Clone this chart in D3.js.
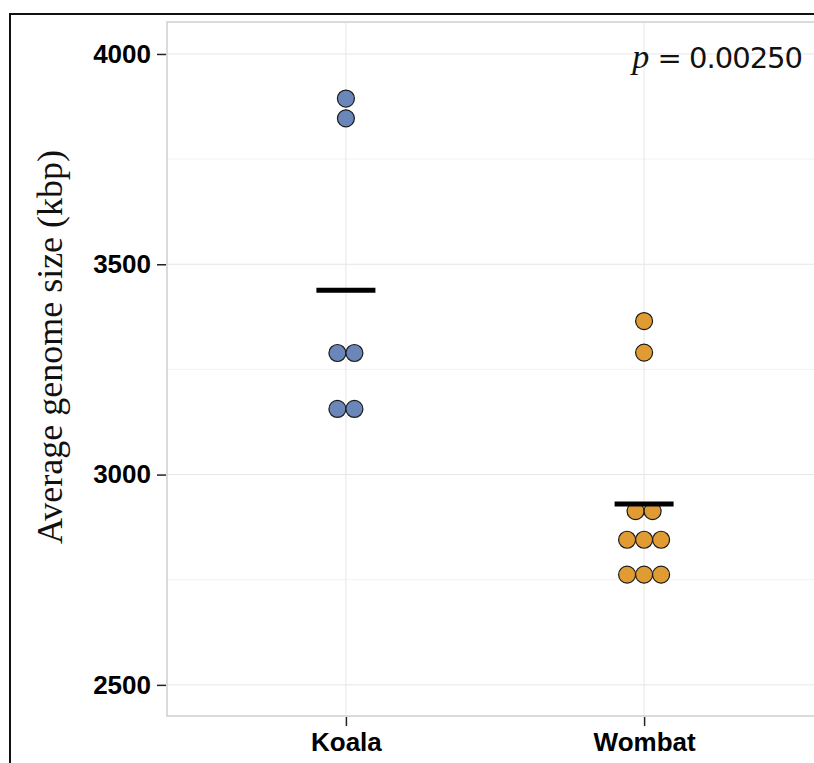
<!DOCTYPE html>
<html><head><meta charset="utf-8">
<script src="https://cdn.jsdelivr.net/npm/d3@7"></script>
<style>body{margin:0;background:#fff}svg{display:block}</style>
</head><body>
<script>
const categories = ["Koala", "Wombat"];
const koalaValues = [3894, 3847, 3289, 3289, 3156, 3156];
const wombatValues = [3365, 3290, 2913, 2913, 2845, 2845, 2845, 2762, 2762, 2762];
const yTicks = [2500, 3000, 3500, 4000];
const yMinorTicks = [2750, 3250, 3750];
const pLabel = "0.00250";
const colors = {Koala: "#6b87b9", Wombat: "#e09b33"};

const W = 814, H = 763;
const svg = d3.select("body").append("svg").attr("width", W).attr("height", H);

// outer border
svg.append("rect").attr("x", 10).attr("y", 14).attr("width", 900).attr("height", 900)
  .attr("fill", "#fff").attr("stroke", "#111").attr("stroke-width", 2);

const panel = {left: 167, top: 22, right: 823, bottom: 716};
// discrete x with ggplot expansion: limits 0.4..2.6
const xs = d3.scaleLinear().domain([0.4, 2.6]).range([panel.left, panel.right]);
const xPos = c => xs(categories.indexOf(c) + 1);
const y = d3.scaleLinear().domain([2426, 4076]).range([panel.bottom, panel.top]);

// panel
svg.append("rect").attr("x", panel.left).attr("y", panel.top)
  .attr("width", panel.right - panel.left).attr("height", panel.bottom - panel.top)
  .attr("fill", "#fff");

const g = svg.append("g");
g.selectAll(".minor").data(yMinorTicks).join("line")
  .attr("x1", panel.left).attr("x2", panel.right)
  .attr("y1", d => y(d)).attr("y2", d => y(d))
  .attr("stroke", "#f2f2f2").attr("stroke-width", 1);
g.selectAll(".major").data(yTicks).join("line")
  .attr("x1", panel.left).attr("x2", panel.right)
  .attr("y1", d => y(d)).attr("y2", d => y(d))
  .attr("stroke", "#e6e6e6").attr("stroke-width", 1);
g.selectAll(".vmajor").data(categories).join("line")
  .attr("x1", d => xPos(d)).attr("x2", d => xPos(d))
  .attr("y1", panel.top).attr("y2", panel.bottom)
  .attr("stroke", "#e6e6e6").attr("stroke-width", 1);

svg.append("rect").attr("x", panel.left).attr("y", panel.top)
  .attr("width", panel.right - panel.left).attr("height", panel.bottom - panel.top)
  .attr("fill", "none").attr("stroke", "#cfcfcf").attr("stroke-width", 1.5);

// axes
const yAxis = d3.axisLeft(y).tickValues(yTicks).tickSize(9).tickPadding(6).tickFormat(d3.format("d"));
const ya = svg.append("g").attr("transform", `translate(${panel.left - 1},0)`).call(yAxis);
ya.select(".domain").remove();
ya.selectAll("line").attr("stroke", "#222").attr("stroke-width", 1.5);
ya.selectAll("text").attr("font-family", "Liberation Sans, Arial, sans-serif")
  .attr("font-weight", "bold").attr("font-size", 26).attr("fill", "#000");

const xAxis = d3.axisBottom(xs).tickValues([1, 2]).tickSize(9).tickPadding(7).tickFormat(d => categories[d - 1]);
const xa = svg.append("g").attr("transform", `translate(0,${panel.bottom + 1})`).call(xAxis);
xa.select(".domain").remove();
xa.selectAll("line").attr("stroke", "#222").attr("stroke-width", 1.5);
xa.selectAll("text").attr("font-family", "Liberation Sans, Arial, sans-serif")
  .attr("font-weight", "bold").attr("font-size", 26).attr("fill", "#000");

// y title
svg.append("text").attr("transform", `translate(62,${(panel.top + panel.bottom) / 2 - 22}) rotate(-90)`)
  .attr("text-anchor", "middle").attr("font-family", "Liberation Serif, Times New Roman, serif")
  .attr("font-size", 36).attr("fill", "#111").text("Average genome size (kbp)");

// dots (stacked centered)
const r = 8.5, d = 17;
function stackPoints(cat, vals) {
  const groups = d3.groups(vals, v => v);
  const pts = [];
  groups.forEach(([v, arr]) => {
    const n = arr.length;
    arr.forEach((_, i) => pts.push({cat, v, off: (i - (n - 1) / 2) * d}));
  });
  return pts;
}
const series = [["Koala", koalaValues], ["Wombat", wombatValues]];
series.forEach(([cat, vals]) => {
  const pts = stackPoints(cat, vals);
  svg.append("g").selectAll("circle").data(pts).join("circle")
    .attr("cx", p => xPos(p.cat) + p.off).attr("cy", p => y(p.v)).attr("r", r)
    .attr("fill", colors[cat]).attr("stroke", "#1a1a1a").attr("stroke-width", 1.2);
  const m = d3.mean(vals);
  svg.append("line").attr("x1", xPos(cat) - 29.5).attr("x2", xPos(cat) + 29.5)
    .attr("y1", y(m)).attr("y2", y(m)).attr("stroke", "#000").attr("stroke-width", 5);
});

// p-value
const pt = svg.append("text").attr("x", 802).attr("y", 68).attr("text-anchor", "end")
  .attr("fill", "#111");
pt.append("tspan").attr("font-family", "Liberation Serif, serif").attr("font-style", "italic").attr("font-size", 34).text("p");
pt.append("tspan").attr("font-family", "DejaVu Sans, sans-serif").attr("font-size", 29)
  .attr("letter-spacing", -1).text(" = " + pLabel);
</script>
</body></html>
